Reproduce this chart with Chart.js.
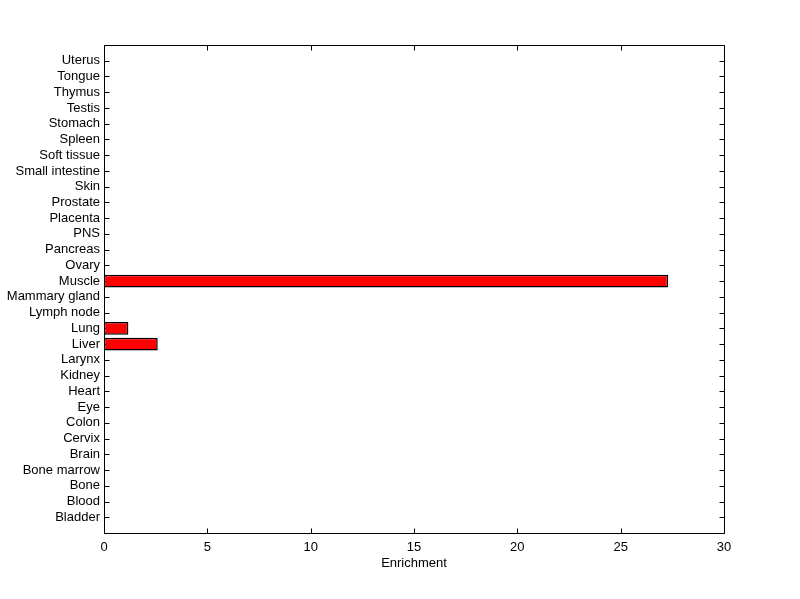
<!DOCTYPE html>
<html>
<head>
<meta charset="utf-8">
<script src="https://cdn.jsdelivr.net/npm/chart.js@4"></script>
<style>
html,body{margin:0;padding:0;background:#fff;}
#wrap{width:800px;height:599px;position:relative;}
</style>
</head>
<body>
<div id="wrap"><canvas id="c" width="800" height="599"></canvas></div>
<script>
const categories = ['Uterus','Tongue','Thymus','Testis','Stomach','Spleen','Soft tissue','Small intestine','Skin','Prostate','Placenta','PNS','Pancreas','Ovary','Muscle','Mammary gland','Lymph node','Lung','Liver','Larynx','Kidney','Heart','Eye','Colon','Cervix','Brain','Bone marrow','Bone','Blood','Bladder'];
const enrichment = [0,0,0,0,0,0,0,0,0,0,0,0,0,0,27.3,0,0,1.18,2.6,0,0,0,0,0,0,0,0,0,0,0];
const xTicks = [0,5,10,15,20,25,30];
const xTitle = 'Enrichment';

const labels = ['', ...categories, ''];
const data = [null, ...enrichment.map(v => v === 0 ? null : v), null];

const FONT = {family: "'Liberation Sans', Arial, sans-serif", size: 13};

function box(chart) {
  const a = chart.chartArea;
  return {
    L: Math.round(a.left) + 0.5, R: Math.round(a.right) + 0.5,
    T: Math.round(a.top) + 0.5, B: Math.round(a.bottom) + 0.5
  };
}

const framePlugin = {
  id: 'frame',
  beforeDatasetsDraw(chart) {
    const ctx = chart.ctx;
    const xs = chart.scales.x, ys = chart.scales.y;
    const {L, R, T, B} = box(chart);
    ctx.save();
    ctx.strokeStyle = '#000';
    ctx.lineWidth = 1;
    const tl = 5;
    ctx.beginPath();
    xTicks.forEach(v => {
      const px = Math.round(xs.getPixelForValue(v)) + 0.5;
      ctx.moveTo(px, B); ctx.lineTo(px, B - tl);
      ctx.moveTo(px, T); ctx.lineTo(px, T + tl);
    });
    categories.forEach(c => {
      const py = Math.round(ys.getPixelForValue(labels.indexOf(c))) + 0.5;
      ctx.moveTo(L, py); ctx.lineTo(L + tl, py);
      ctx.moveTo(R, py); ctx.lineTo(R - tl, py);
    });
    ctx.stroke();
    ctx.restore();
  },
  afterDraw(chart) {
    const ctx = chart.ctx;
    const {L, R, T, B} = box(chart);
    ctx.save();
    ctx.strokeStyle = '#000';
    ctx.lineWidth = 1;
    ctx.beginPath();
    ctx.rect(L, T, R - L, B - T);
    ctx.stroke();
    ctx.restore();
  }
};

new Chart(document.getElementById('c'), {
  type: 'bar',
  data: {
    labels: labels,
    datasets: [{
      data: data,
      backgroundColor: '#ff0000',
      borderColor: '#000000',
      borderWidth: 1.5,
      borderSkipped: false,
      barPercentage: 1,
      categoryPercentage: 0.8
    }]
  },
  options: {
    indexAxis: 'y',
    responsive: false,
    animation: false,
    devicePixelRatio: 1,
    layout: {padding: {left: 0, top: 45, right: 76, bottom: 28}},
    plugins: {legend: {display: false}, tooltip: {enabled: false}},
    scales: {
      y: {
        type: 'category',
        offset: false,
        grid: {display: false, drawTicks: false},
        border: {display: false},
        ticks: {color: '#000', font: FONT, padding: 4, autoSkip: false},
        afterFit(s) { s.width = 104; }
      },
      x: {
        type: 'linear',
        min: 0, max: 30,
        afterBuildTicks(s) { s.ticks = xTicks.map(v => ({value: v})); },
        grid: {display: false, drawTicks: false},
        border: {display: false},
        ticks: {color: '#000', font: FONT, padding: 7, maxRotation: 0},
        title: {display: true, text: xTitle, color: '#000', font: FONT, padding: {top: 2, bottom: 0}},
        afterFit(s) { s.height = 599 - 533 - 28; }
      }
    }
  },
  plugins: [framePlugin]
});
</script>
</body>
</html>
